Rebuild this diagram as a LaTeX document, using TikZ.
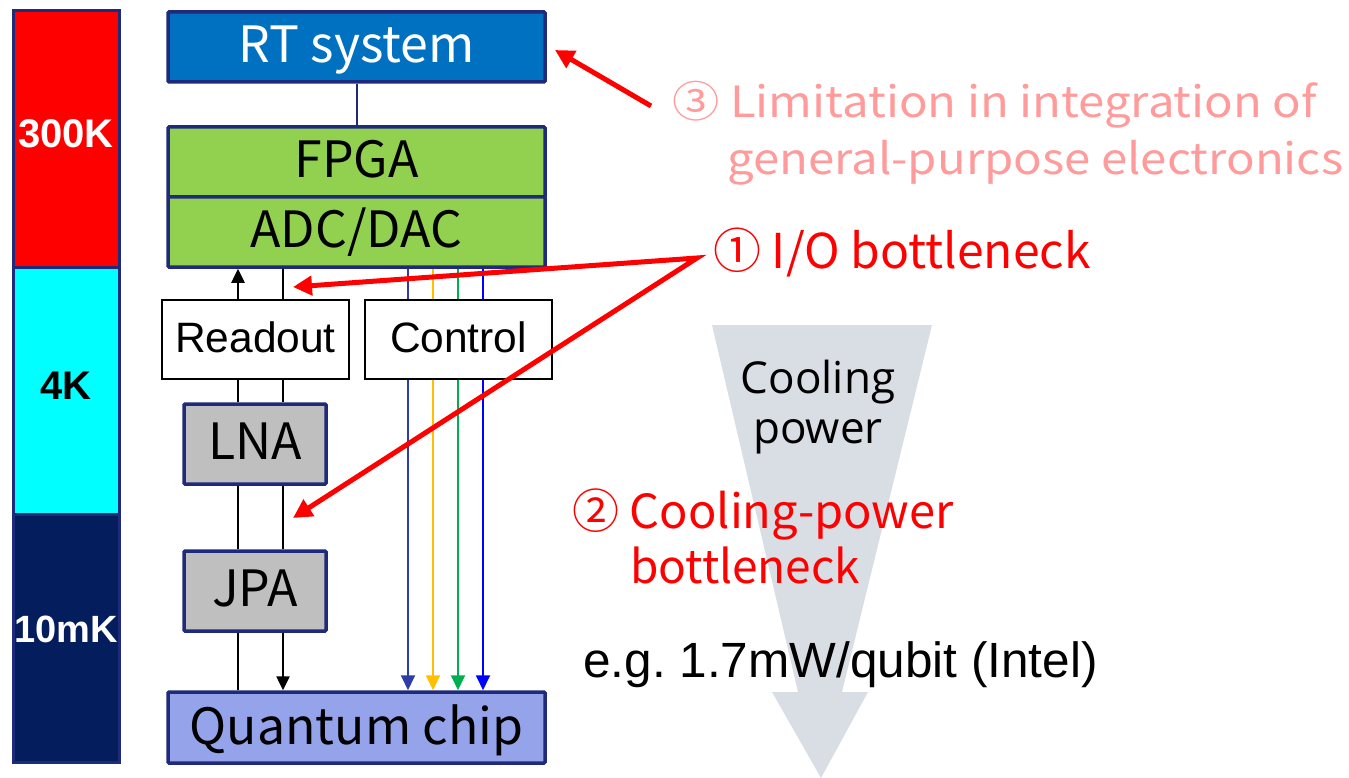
\documentclass[tikz,border=0pt]{standalone}
\usepackage{fontspec}
\usetikzlibrary{arrows.meta}
\newfontfamily\jpfont{Noto Sans CJK JP}
\newfontfamily\jpwide[FakeStretch=1.1]{Noto Sans CJK JP}
\newfontfamily\arialfont{Liberation Sans}
\newfontfamily\segfont{Open Sans}
\definecolor{boxline}{RGB}{31,42,122}
\definecolor{rtblue}{RGB}{0,112,192}
\definecolor{fpgagreen}{RGB}{146,208,80}
\definecolor{chipblue}{RGB}{149,163,235}
\definecolor{ampgray}{RGB}{191,191,191}
\definecolor{coldnavy}{RGB}{4,29,92}
\definecolor{warmred}{RGB}{255,0,0}
\definecolor{midcyan}{RGB}{0,255,255}
\definecolor{ctlA}{RGB}{46,60,166}
\definecolor{ctlB}{RGB}{255,192,0}
\definecolor{ctlC}{RGB}{0,176,80}
\definecolor{ctlD}{RGB}{0,0,255}
\definecolor{pinktxt}{RGB}{255,155,155}
\definecolor{coolgray}{RGB}{217,221,228}
\begin{document}
\begin{tikzpicture}[x=1pt,y=-1pt,
  bx/.style={draw=boxline, line width=3.5pt, rounded corners=1pt, inner sep=0pt,
    text height=36.5pt, text depth=5pt, font=\jpfont\fontsize{50}{56}\selectfont},
  wbx/.style={draw=black, line width=2pt, fill=white, inner sep=0pt,
    minimum width=187pt, minimum height=79pt, text height=30.4pt, text depth=5pt,
    font=\arialfont\fontsize{42.5}{48}\selectfont},
  gbx/.style={bx, fill=ampgray, minimum width=142pt, minimum height=80pt},
  tcol/.style={draw=boxline, line width=3pt, inner sep=0pt, minimum width=106pt,
    text height=28.6pt, text depth=10.6pt, font=\arialfont\bfseries\fontsize{40}{46}\selectfont},
  sig/.style={line width=2.5pt, black},
  sigarr/.style={sig, -{Triangle[length=14pt,width=13pt]}},
  ctl/.style={line width=2pt, -{Triangle[length=15pt,width=14pt]}},
  redarr/.style={draw=red, line width=5pt, -{Triangle[length=19pt,width=19pt]}},
  redtxt/.style={text=red, inner sep=0pt, font=\jpfont\fontsize{47}{53}\selectfont},
  pinktext/.style={text=pinktxt, inner sep=0pt, font=\jpwide\fontsize{43}{50}\selectfont},
]
\useasboundingbox (0,0) rectangle (1349,778);

% temperature column
\node[tcol, fill=warmred, text=white, minimum height=256pt] (k300) at (66,139) {300K};
\node[tcol, fill=midcyan, text=black, minimum height=247pt] (k4) at (66,390.5) {4K};
\node[tcol, fill=coldnavy, text=white, minimum height=248pt, text height=27.2pt, text depth=19pt,
  font=\arialfont\bfseries\fontsize{38}{44}\selectfont] (k10) at (66,638) {10mK};

% cooling power arrow
\fill[coolgray] (712,325) -- (932,325) -- (842,692) -- (868,692) -- (821,778)
  -- (772,692) -- (798,692) -- cycle;
\node[inner sep=0pt, anchor=base, font=\segfont\fontsize{44}{50}\selectfont] (cp1) at (818,393) {Cooling};
\node[inner sep=0pt, anchor=base, font=\segfont\fontsize{44}{50}\selectfont] (cp2) at (818,443) {power};

% main boxes
\node[bx, fill=rtblue, text=white, minimum width=377pt, minimum height=70pt] (rt) at (356.5,47) {RT system};
\node[bx, fill=fpgagreen, minimum width=377pt, minimum height=70pt] (fpga) at (356.5,162) {FPGA};
\node[bx, fill=fpgagreen, minimum width=377pt, minimum height=70pt] (adc) at (356.5,232) {ADC/DAC};
\node[bx, fill=chipblue, minimum width=377pt, minimum height=71pt, text height=38pt] (chip) at (356.5,727.5) {Quantum chip};
\draw[boxline, line width=2pt] (rt.south) -- (fpga.north);

% control lines
\path (408,0) coordinate (cx1) (433,0) coordinate (cx2) (458,0) coordinate (cx3) (483,0) coordinate (cx4)
      (238,0) coordinate (rx1) (283,0) coordinate (rx2);
\draw[ctl, ctlA] (adc.south -| cx1) -- (chip.north -| cx1);
\draw[ctl, ctlB] (adc.south -| cx2) -- (chip.north -| cx2);
\draw[ctl, ctlC] (adc.south -| cx3) -- (chip.north -| cx3);
\draw[ctl, ctlD] (adc.south -| cx4) -- (chip.north -| cx4);

\node[wbx] (readout) at (255.5,339.5) {Readout};
\node[wbx] (control) at (458.5,339.5) {Control};
\node[gbx] (lna) at (255,444) {LNA};
\node[gbx] (jpa) at (255,591) {JPA};

% readout chain
\draw[sigarr] (readout.north -| rx1) -- (adc.south -| rx1);
\draw[sig] (adc.south -| rx2) -- (readout.north -| rx2);
\draw[sig] (readout.south -| rx1) -- (lna.north -| rx1);
\draw[sig] (readout.south -| rx2) -- (lna.north -| rx2);
\draw[sig] (lna.south -| rx1) -- (jpa.north -| rx1);
\draw[sig] (lna.south -| rx2) -- (jpa.north -| rx2);
\draw[sig] (jpa.south -| rx1) -- (chip.north -| rx1);
\draw[sigarr] (jpa.south -| rx2) -- (chip.north -| rx2);

% annotations
\node[pinktext, anchor=base west] (lim1) at (672,118) {③ Limitation in integration of};
\node[pinktext, anchor=base west] (lim2) at (727,175) {general-purpose electronics};
\node[redtxt, anchor=base west, font=\jpfont\fontsize{48}{54}\selectfont] (io) at (713,268) {① I/O bottleneck};
\node[redtxt, anchor=base west] (cb1) at (572,528) {② Cooling-power};
\node[redtxt, anchor=base west, font=\jpfont\fontsize{46}{52}\selectfont] (cb2) at (630,583) {bottleneck};
\node[inner sep=0pt, anchor=base west, font=\arialfont\fontsize{49.5}{55}\selectfont] (eg) at (583,677) {e.g.\ 1.7mW/qubit (Intel)};

\coordinate (ioj) at (697,258);
\coordinate (iot1) at (293,287);
\coordinate (iot2) at (293,518);
\coordinate (limt) at (651,106);
\coordinate (limh) at (555,50);
\draw[redarr, {Triangle[length=19pt,width=19pt]}-{Triangle[length=19pt,width=19pt]}, line join=miter]
  (iot1) -- (ioj) -- (iot2);
\draw[redarr] (limt) -- (limh);
\end{tikzpicture}
\end{document}
